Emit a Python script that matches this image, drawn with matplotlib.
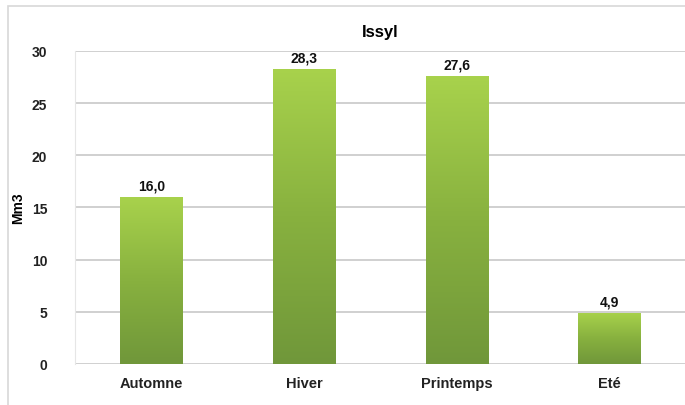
import numpy as np
import matplotlib.pyplot as plt
from matplotlib.colors import LinearSegmentedColormap

saisons = ['Automne', 'Hiver', 'Printemps', 'Eté']
volumes = [16.0, 28.3, 27.6, 4.9]
labels = ['16,0', '28,3', '27,6', '4,9']

plt.rcParams['font.family'] = ['Liberation Sans', 'DejaVu Sans']

fig = plt.figure(figsize=(6.85, 4.06), dpi=100)
ax = fig.add_axes([0.1095, 0.101, 0.892, 0.771])

# light frame round the chart (right and bottom edges fall outside the picture)
fig.patches.append(plt.Rectangle((8 / 685, -0.02), 1.05, 1 - 7 / 406 + 0.02,
                                 transform=fig.transFigure, fill=False,
                                 edgecolor='#d8d8d8', linewidth=1.2))

x = np.arange(len(saisons))
width = 0.41
bars = ax.bar(x, volumes, width=width, color='#8db83f', edgecolor='none', zorder=2)

green = LinearSegmentedColormap.from_list('g', ['#70973a', '#88b13f', '#a8d24c'])
grad = np.linspace(0, 1, 256).reshape(-1, 1)
for b, lab in zip(bars, labels):
    x0, h = b.get_x(), b.get_height()
    im = ax.imshow(grad, cmap=green, aspect='auto', origin='lower',
                   extent=(x0, x0 + b.get_width(), 0, h), zorder=3)
    im.set_clip_path(b)
    ax.text(x0 + b.get_width() / 2, h + 0.4, lab, ha='center', va='bottom',
            fontsize=10, fontweight='bold', color='#111111', zorder=4)

ax.set_xlim(-0.5, len(saisons) - 0.5)
ax.set_ylim(0, 30)
ax.set_yticks(range(0, 31, 5))
ax.set_xticks(x)
ax.set_xticklabels(saisons, fontsize=10.5, fontweight='bold')
for t in ax.get_yticklabels():
    t.set_fontweight('bold')
    t.set_fontsize(10)
ax.tick_params(axis='both', length=0, colors='#222222')
ax.tick_params(axis='y', pad=20)
ax.tick_params(axis='x', pad=9)

ax.grid(axis='y', color='#c8c8c8', linewidth=1.2, zorder=0)
ax.set_axisbelow(True)
for s in ['top', 'right', 'bottom']:
    ax.spines[s].set_visible(False)
ax.spines['left'].set_color('#e6e6e6')

ax.set_ylabel('Mm3', fontsize=10, fontweight='bold', labelpad=5)
ax.set_title('Issyl', fontsize=12, fontweight='bold', pad=11)

fig.savefig('out.png', dpi=100)
